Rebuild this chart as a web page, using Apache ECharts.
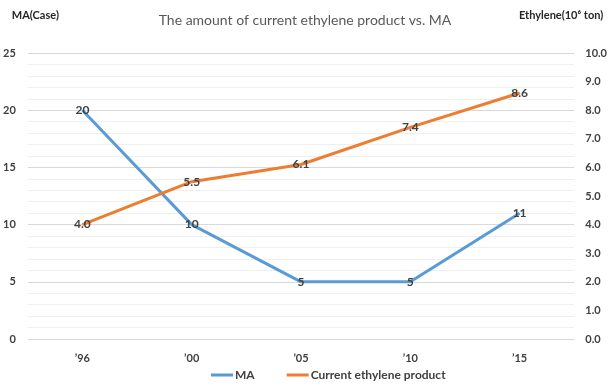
<!DOCTYPE html>
<html><head><meta charset="utf-8">
<script src="https://cdn.jsdelivr.net/npm/echarts@6/dist/echarts.min.js"></script>
<style>html,body{margin:0;padding:0;background:#fff}#c{width:610px;height:387px}</style>
</head><body><div id="c"></div>
<script>
const categories = ['\u201996', '\u201900', '\u201905', '\u201910', '\u201915'];
const maValues = [20, 10, 5, 5, 11];
const ethyleneValues = [4.0, 5.5, 6.1, 7.4, 8.6];
const leftTicks = [0, 5, 10, 15, 20, 25];
const rightTicks = [0, 1, 2, 3, 4, 5, 6, 7, 8, 9, 10];

const FONT = 'Lato, "Open Sans", sans-serif';
const chart = echarts.init(document.getElementById('c'));
chart.setOption({
  animation: false,
  textStyle: { fontFamily: FONT },
  title: {
    text: 'The amount of current ethylene product vs. MA',
    left: 'center', top: 8,
    textStyle: { fontFamily: FONT, fontSize: 14, fontWeight: 'normal', color: '#595959' }
  },
  legend: {
    bottom: 1, left: 206, itemWidth: 22, itemHeight: 3, itemGap: 32,
    icon: 'rect',
    textStyle: { fontFamily: FONT, fontSize: 12, color: '#404040', fontWeight: 'bold', padding: [0, 0, 0, -3] },
    data: ['MA', 'Current ethylene product']
  },
  grid: { left: 27, right: 32, top: 53, bottom: 48 },
  xAxis: {
    type: 'category', data: categories, boundaryGap: true,
    axisLine: { show: false }, axisTick: { show: false },
    axisLabel: { color: '#404040', fontSize: 11, fontWeight: 'bold', margin: 14, fontFamily: FONT }
  },
  yAxis: [
    {
      type: 'value', min: leftTicks[0], max: leftTicks[leftTicks.length - 1], interval: 5,
      name: 'MA(Case)', nameLocation: 'end', nameGap: 32,
      nameTextStyle: { color: '#262626', fontSize: 11, fontWeight: 'bold', align: 'left', padding: [0, 0, 0, -16], fontFamily: FONT },
      axisLine: { show: false }, axisTick: { show: false },
      axisLabel: { color: '#404040', fontSize: 11, fontWeight: 'bold', margin: 12, fontFamily: FONT },
      splitLine: { lineStyle: { color: '#d9d9d9', width: 1 } },
      minorTick: { show: false, splitNumber: 5 },
      minorSplitLine: { show: true, lineStyle: { color: '#efefef', width: 1 } }
    },
    {
      type: 'value', min: rightTicks[0], max: rightTicks[rightTicks.length - 1], interval: 1,
      name: 'Ethylene(10\u2076 ton)', nameLocation: 'end', nameGap: 32,
      nameTextStyle: { color: '#262626', fontSize: 11, fontWeight: 'bold', align: 'right', padding: [0, -29, 0, 0], fontFamily: FONT },
      axisLine: { show: false }, axisTick: { show: false },
      axisLabel: { color: '#404040', fontSize: 11, fontWeight: 'bold', margin: 11, fontFamily: FONT,
        formatter: v => v.toFixed(1) },
      splitLine: { show: false }
    }
  ],
  series: [
    {
      name: 'MA', type: 'line', yAxisIndex: 0, data: maValues,
      symbol: 'circle', symbolSize: 1, showSymbol: true,
      lineStyle: { color: '#5B9BD5', width: 3 }, itemStyle: { color: '#5B9BD5' },
      label: { show: true, position: 'inside', color: '#404040', fontSize: 12, fontWeight: 'bold', fontFamily: FONT },
      z: 3
    },
    {
      name: 'Current ethylene product', type: 'line', yAxisIndex: 1, data: ethyleneValues,
      symbol: 'circle', symbolSize: 1, showSymbol: true,
      lineStyle: { color: '#ED7D31', width: 3 }, itemStyle: { color: '#ED7D31' },
      label: { show: true, position: 'inside', color: '#404040', fontSize: 12, fontWeight: 'bold', fontFamily: FONT,
        formatter: p => p.value.toFixed(1) },
      z: 4
    }
  ]
});
</script></body></html>
